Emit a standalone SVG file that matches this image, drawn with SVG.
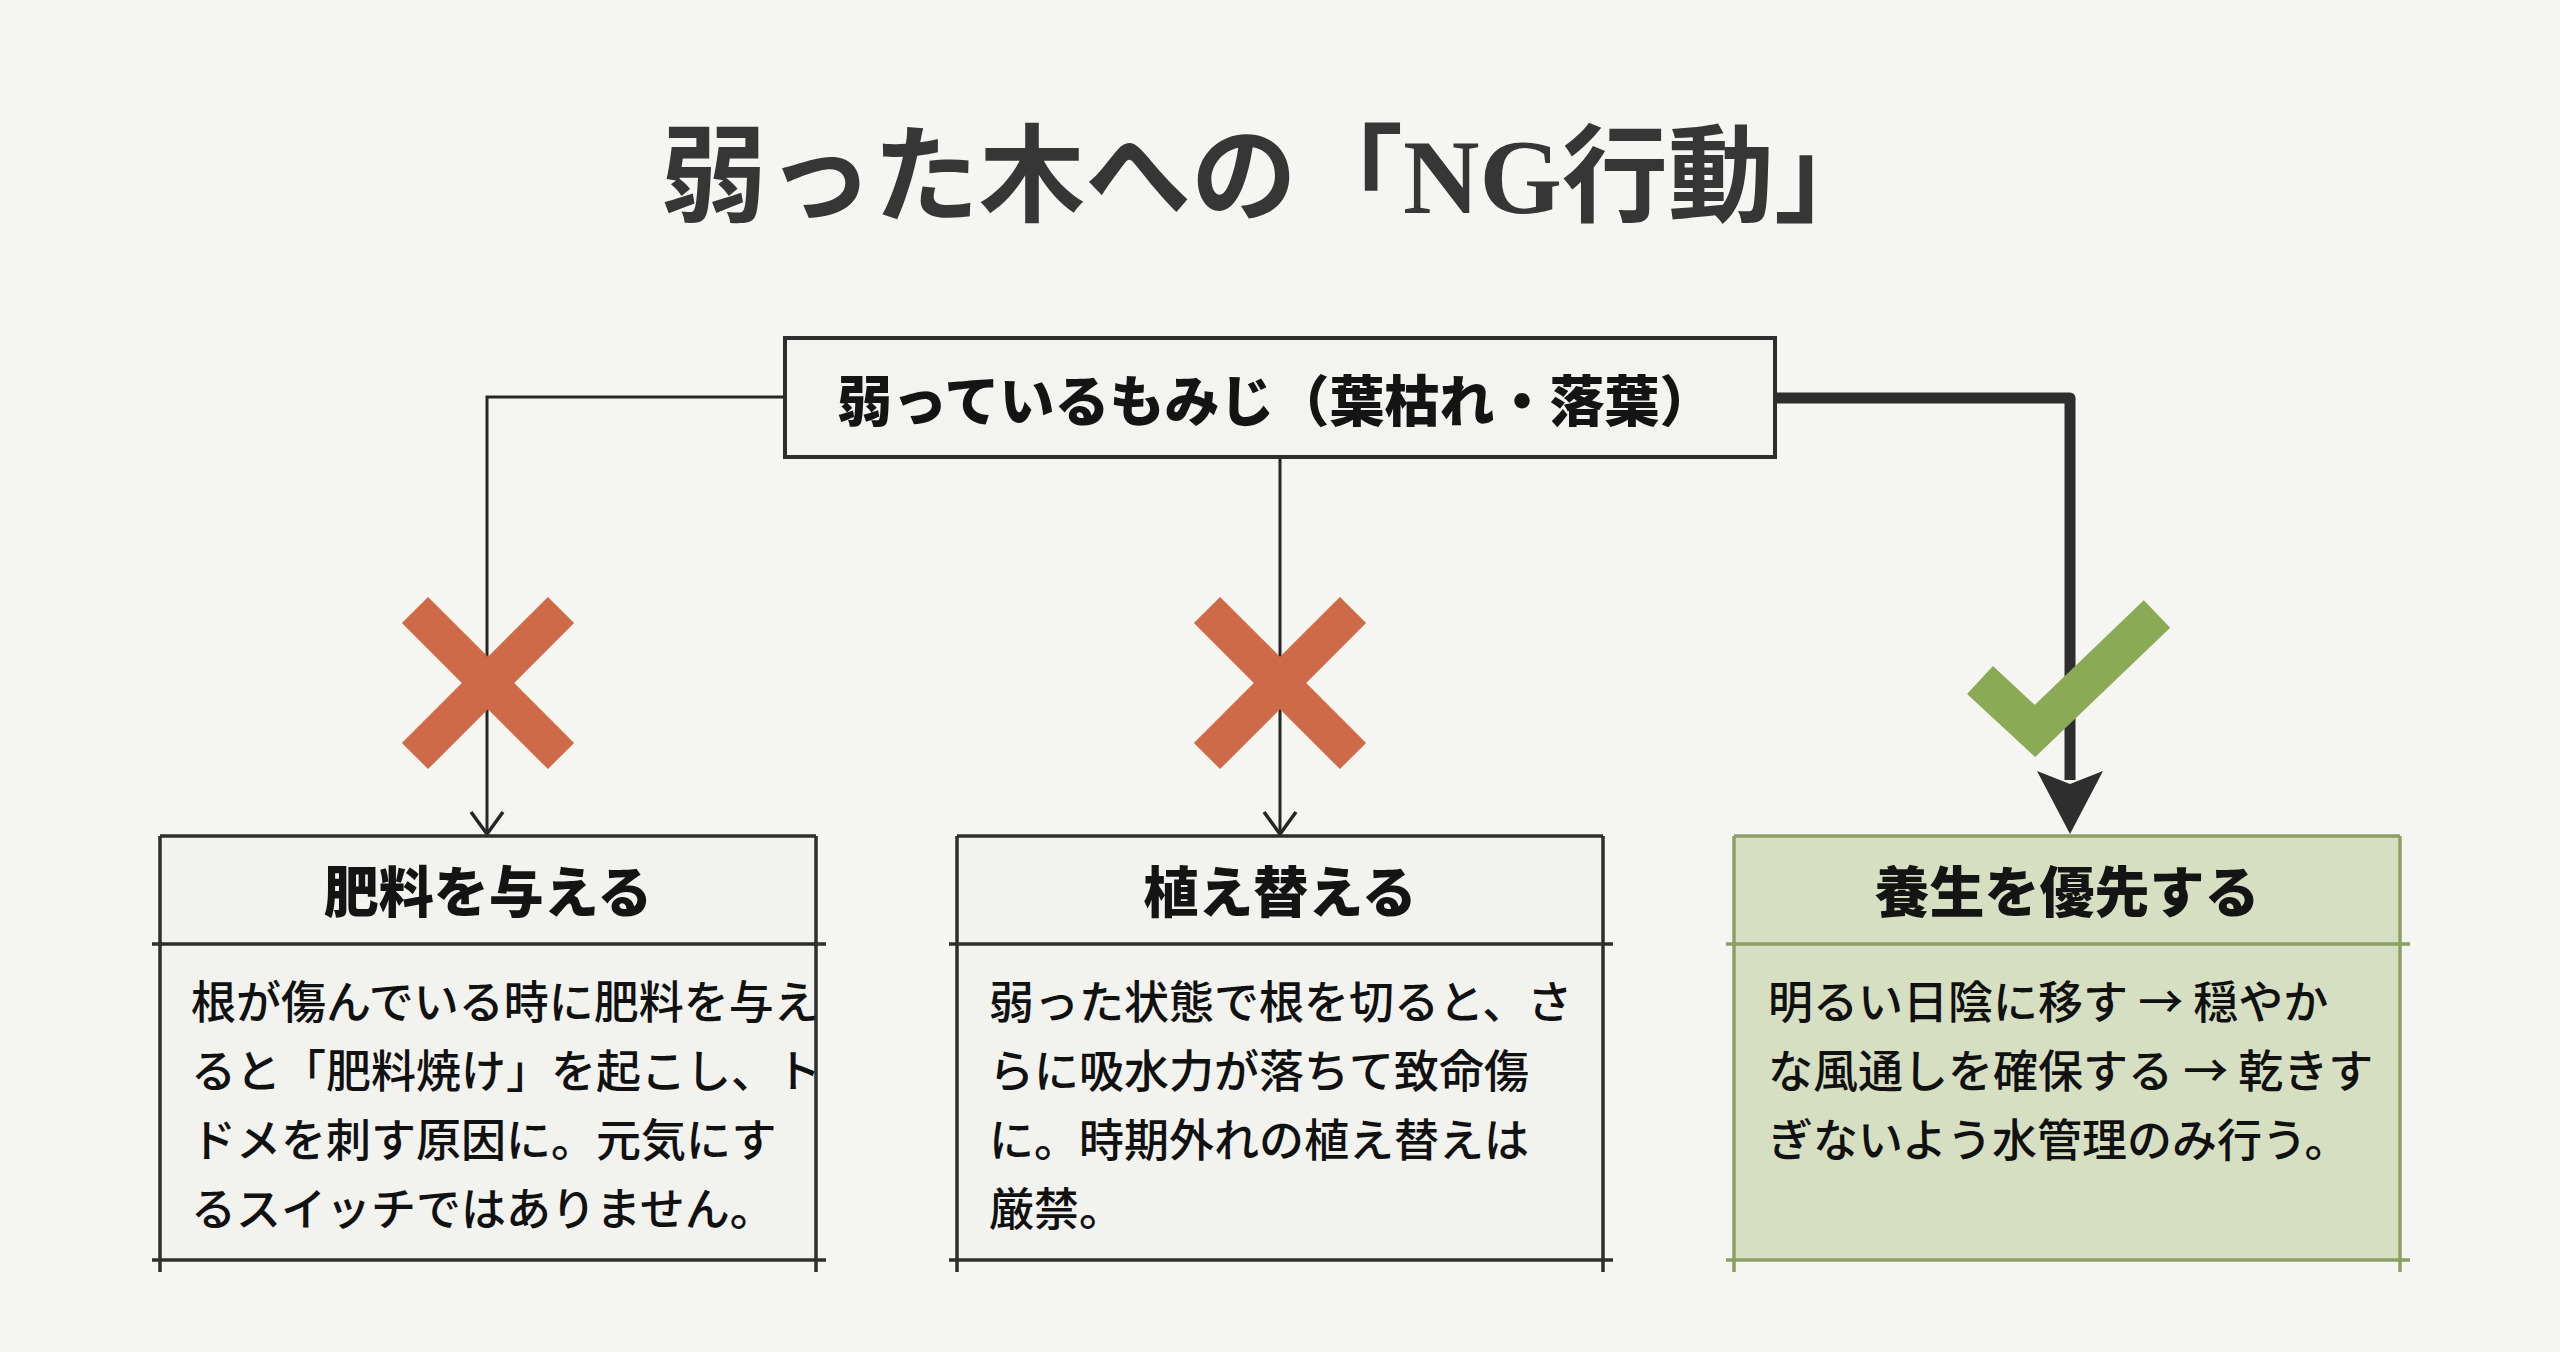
<svg xmlns="http://www.w3.org/2000/svg" width="2560" height="1352" viewBox="0 0 2560 1352">
<style>
.title{font-family:"Liberation Serif","Noto Sans CJK JP",serif;font-weight:bold;font-size:106px;fill:#363636}
.root{font-family:"Noto Sans CJK JP","Noto Sans",sans-serif;font-weight:900;font-size:55px;fill:#141414}
.head{font-family:"Noto Sans CJK JP","Noto Sans",sans-serif;font-weight:900;font-size:55px;fill:#141414;text-anchor:middle}
.body{font-family:"Noto Sans CJK JP","Noto Sans",sans-serif;font-weight:500;font-size:45px;fill:#111111}
.frame{stroke:#2e2e2e;stroke-width:3.5;fill:none}
.gframe{stroke:#8c9f66;stroke-width:3.5;fill:none}
.thin{stroke:#262626;stroke-width:3;fill:none}
.thick{stroke:#2e2e2e;stroke-width:11;fill:none;stroke-linejoin:round}
.xmark{stroke:#cf6a48;stroke-width:37;stroke-linecap:butt}
.tip{fill:none;stroke:#262626;stroke-width:3.5}
</style>
<rect x="0" y="0" width="2560" height="1352" fill="#f5f5f1"/>

<text class="title" x="661" y="213">弱った木への「NG行動」</text>

<g id="connectors">
<path class="thin" d="M785,397 H487 V833"/>
<path class="thin" d="M1280,457 V833"/>
<path class="thick" d="M1775,398 H2070 V780"/>
<polygon points="2037,771 2070,784 2103,771 2070,834" fill="#2e2e2e"/>
<path class="tip" d="M471,812 L487,834 L503,812"/>
<path class="tip" d="M1264,812 L1280,834 L1296,812"/>
</g>

<g id="root">
<rect x="785" y="338" width="990" height="119" fill="#f3f3f0" stroke="#2e2e2e" stroke-width="4"/>
<text class="root" x="1276" y="421" text-anchor="middle">弱っているもみじ（葉枯れ・落葉）</text>
</g>

<g id="mark-x1">
<line class="xmark" x1="415" y1="610" x2="561" y2="756"/>
<line class="xmark" x1="561" y1="610" x2="415" y2="756"/>
</g>
<g id="mark-x2">
<line class="xmark" x1="1207" y1="610" x2="1353" y2="756"/>
<line class="xmark" x1="1353" y1="610" x2="1207" y2="756"/>
</g>
<g id="mark-check">
<polyline points="1980,680 2035,731 2157,614" fill="none" stroke="#8aaa56" stroke-width="38" stroke-linejoin="miter" stroke-linecap="butt"/>
</g>

<g id="node-fertilize">
<rect x="160" y="836" width="656" height="424" fill="#f2f2ee"/>
<path class="frame" d="M160,836 H816 M152,944 H826 M152,1260 H826 M160,836 V1272 M816,836 V1272"/>
<text class="head" x="488" y="912">肥料を与える</text>
<text class="body" x="191" y="1019">根が傷んでいる時に肥料を与え</text>
<text class="body" x="191" y="1088">ると「肥料焼け」を起こし、ト</text>
<text class="body" x="191" y="1157">ドメを刺す原因に。元気にす</text>
<text class="body" x="191" y="1226">るスイッチではありません。</text>
</g>

<g id="node-repot">
<rect x="957" y="836" width="646" height="424" fill="#f2f2ee"/>
<path class="frame" d="M957,836 H1603 M949,944 H1613 M949,1260 H1613 M957,836 V1272 M1603,836 V1272"/>
<text class="head" x="1280" y="912">植え替える</text>
<text class="body" x="989" y="1019">弱った状態で根を切ると、さ</text>
<text class="body" x="989" y="1088">らに吸水力が落ちて致命傷</text>
<text class="body" x="989" y="1157">に。時期外れの植え替えは</text>
<text class="body" x="989" y="1226">厳禁。</text>
</g>

<g id="node-care">
<rect x="1734" y="836" width="666" height="424" fill="#d7dfc3"/>
<path class="gframe" d="M1734,836 H2400 M1726,944 H2410 M1726,1260 H2410 M1734,836 V1272 M2400,836 V1272"/>
<text class="head" x="2067" y="912">養生を優先する</text>
<text class="body" x="1768" y="1019">明るい日陰に移す → 穏やか</text>
<text class="body" x="1768" y="1088">な風通しを確保する → 乾きす</text>
<text class="body" x="1768" y="1157">ぎないよう水管理のみ行う。</text>
</g>
</svg>
